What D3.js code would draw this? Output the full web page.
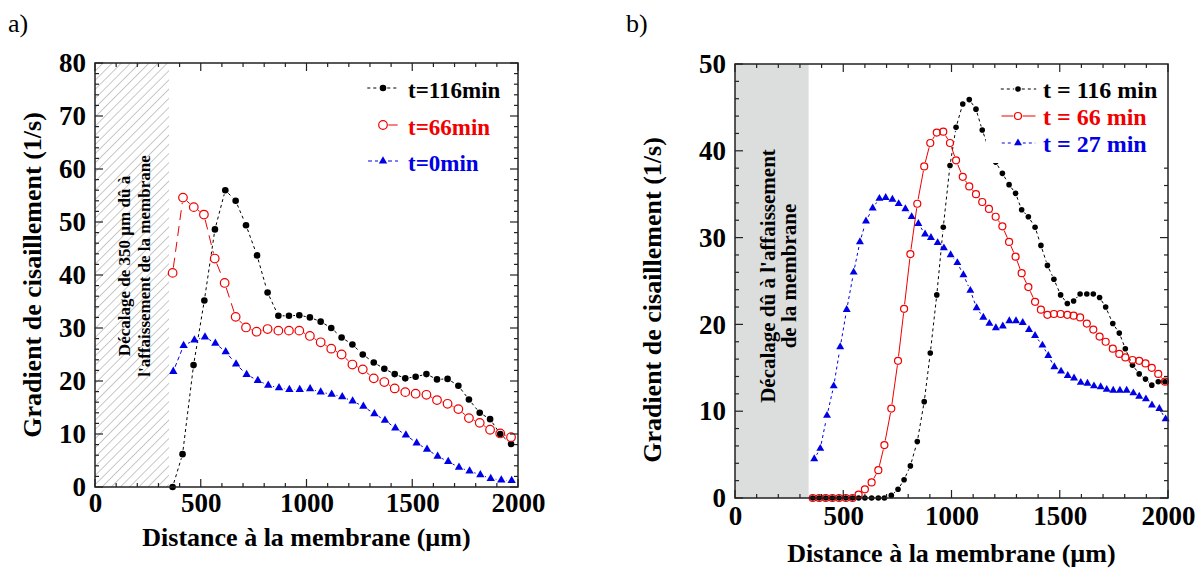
<!DOCTYPE html>
<html><head><meta charset="utf-8">
<script src="https://cdn.jsdelivr.net/npm/d3@7"></script>
<style>body{margin:0;background:#fff} svg{display:block} text{font-family:"Liberation Serif","Times New Roman",serif}</style>
</head><body><svg id="c" width="1202" height="575" font-family="Liberation Serif, Times New Roman, serif"></svg>
<script>
// ---------- Panel a data ----------
const xA116 = [367,414,466,517,567,616,665,714,766,816,867,917,966,1016,1067,1117,1166,1217,1266,1318,1368,1417,1467,1516,1567,1617,1667,1718,1768,1819,1868,1916,1967];
const yA116 = [0,6.2,23,35.2,48.6,56,54,49.4,43.7,36.7,32.3,32.3,32.4,32.0,31.2,30.0,28.2,26.9,25.0,23.5,22.3,21.3,20.5,20.8,21.3,20.3,20.4,19.1,16.5,14.0,12.8,10.0,8.1];
const xA66 = [367,416,467,515,566,613,665,714,764,816,867,917,966,1016,1067,1117,1166,1217,1266,1318,1368,1417,1467,1516,1567,1617,1667,1718,1768,1819,1868,1916,1967];
const yA66 = [40.4,54.6,52.8,51.4,43.1,38.5,32.1,30.1,29.3,29.8,29.5,29.5,29.5,28.5,27.3,26.1,25.0,23.1,22.2,20.5,19.8,18.6,17.9,17.6,17.4,16.4,15.7,14.7,13.0,12.1,10.8,10.1,9.4];
const xA0 = [370,419,470,520,569,618,667,717,770,819,870,919,968,1017,1067,1119,1169,1218,1269,1321,1371,1420,1470,1521,1570,1620,1670,1721,1771,1822,1871,1921,1970];
const yA0 = [21.8,26.7,27.7,28.3,27.1,25.5,23.2,21.2,20.1,19.2,18.7,18.4,18.4,18.5,17.9,17.5,17.0,16.2,15.2,13.8,12.6,11.1,9.8,8.3,7.1,5.8,4.8,3.7,3.0,2.3,1.6,1.3,1.2];
const legendA = ["t=116min","t=66min","t=0min"];
const yTicksA = [0,10,20,30,40,50,60,70,80];

// ---------- Panel b data ----------
const xB = [359,389,419,450,481,512,543,571,600,631,662,690,722,753,781,810,842,874,902,932,962,993,1021,1052,1082,1113,1142,1173,1204,1235,1266,1296,1324,1355,1386,1413,1443,1473,1504,1535,1564,1594,1625,1655,1684,1712,1745,1775,1803,1836,1867,1896,1925,1955,1986];
const yB116 = [0,0,0,0,0,0,0,0,0,0,0,0,0.3,1.0,2.1,3.7,6.5,11.1,16.7,23.4,31.2,38.3,42.7,45.4,45.9,44.8,42.4,40.2,38.7,37.4,36.1,35.1,33.2,32.4,31.2,29.1,26.8,25.2,23.4,22.4,22.7,23.5,23.5,23.5,23.1,22.0,20.1,19.0,17.2,15.3,14.3,13.7,13.0,13.4,13.4];
const yB66 = [0,0,0,0,0,0,0,0.4,1.0,1.8,3.2,6.1,10.3,15.8,21.8,28.1,33.9,38.2,40.9,42.1,42.2,40.9,38.9,37.0,35.9,35.0,34.1,33.3,32.4,31.3,29.5,27.8,25.9,24.3,22.6,21.7,21.1,21.2,21.2,21.1,21.0,20.8,20.1,19.4,18.6,18.0,17.2,16.6,16.2,15.9,15.8,15.5,15.0,14.3,13.4];
const xB27 = [366,394,425,456,486,516,548,577,605,636,667,696,727,756,787,816,847,878,905,936,965,996,1027,1055,1087,1116,1147,1175,1205,1237,1267,1298,1329,1358,1386,1420,1447,1475,1506,1537,1566,1597,1628,1658,1689,1717,1747,1778,1809,1840,1867,1898,1926,1960,1989];
const yB27 = [4.5,5.7,9.5,12.9,17.4,21.7,26.0,29.5,31.9,33.4,34.5,34.6,34.4,33.9,33.3,32.4,31.6,30.4,30.0,29.4,28.8,28.0,27.1,25.7,23.9,21.9,20.8,20.1,19.6,19.8,20.4,20.4,20.2,19.4,18.7,17.6,16.4,15.1,14.6,14.1,13.8,13.3,13.2,12.9,12.8,12.5,12.4,12.4,12.4,12.1,11.7,11.4,10.7,10.3,9.1];
const legendB = ["t = 116 min","t = 66 min","t = 27 min"];
const yTicksB = [0,10,20,30,40,50];

const xTicks = [0,500,1000,1500,2000];
const BLACK = "#000", RED = "#f00000", BLUE = "#0000e6";
const FONT = "Liberation Serif, Times New Roman, serif";

const svg = d3.select("#c");
const defs = svg.append("defs");
const pat = defs.append("pattern").attr("id","hatch").attr("patternUnits","userSpaceOnUse")
  .attr("width",6.5).attr("height",6.5).attr("patternTransform","rotate(45)");
pat.append("line").attr("x1",0).attr("y1",0).attr("x2",0).attr("y2",6.5)
  .attr("stroke","#9a9a9a").attr("stroke-width",1.1);

function marker(g, type, cx, cy, r, color) {
  if (type === "dot") g.append("circle").attr("cx",cx).attr("cy",cy).attr("r",r).attr("fill",color);
  else if (type === "ring") g.append("circle").attr("cx",cx).attr("cy",cy).attr("r",r).attr("fill","none").attr("stroke",color).attr("stroke-width",1.2);
  else g.append("path").attr("d", d3.symbol(d3.symbolTriangle, r*r*1.9)()).attr("transform",`translate(${cx},${cy})`).attr("fill",color);
}

function gappedLine(g, pts, gap, color, dash) {
  for (let i = 1; i < pts.length; i++) {
    const [x1,y1] = pts[i-1], [x2,y2] = pts[i];
    const dx = x2-x1, dy = y2-y1, L = Math.hypot(dx,dy);
    if (L <= 2*gap) continue;
    const ux = dx/L, uy = dy/L;
    g.append("line").attr("x1",x1+ux*gap).attr("y1",y1+uy*gap).attr("x2",x2-ux*gap).attr("y2",y2-uy*gap)
      .attr("stroke",color).attr("stroke-width",1).attr("stroke-dasharray",dash);
  }
}

function txt(g, size) {
  return g.append("text").attr("font-family",FONT).attr("font-weight","bold").attr("font-size",size);
}

function panel(c) {
  const g = svg.append("g");
  const x = d3.scaleLinear().domain([0,2000]).range([c.left,c.right]);
  const y = d3.scaleLinear().domain([0,c.yMax]).range([c.bottom,c.top]);
  g.append("rect").attr("x",x(0)).attr("y",y(c.yMax)).attr("width",x(c.shadeEnd)-x(0)).attr("height",y(0)-y(c.yMax))
    .attr("fill", c.hatch ? "url(#hatch)" : "#dcdddd");
  const ax = (x(0)+x(c.shadeEnd))/2, ay = c.annY;
  c.annLines.forEach((t,i) => {
    txt(g, c.annSize).attr("transform",`translate(${ax + (i-0.5)*c.annSpacing + c.annShift},${ay}) rotate(-90)`)
      .attr("text-anchor","middle").attr("dy","0.35em").text(t);
  });
  const clip = "clip" + c.id;
  defs.append("clipPath").attr("id",clip).append("rect").attr("x",c.left-6).attr("y",c.top-6).attr("width",c.right-c.left+12).attr("height",c.bottom-c.top+12);
  const sg = g.append("g").attr("clip-path",`url(#${clip})`);
  c.series.forEach(s => {
    const pts = s.x.map((v,i) => [x(v), y(s.y[i])]);
    gappedLine(sg, pts, s.r + 1, s.color, s.dash);
    pts.forEach(p => marker(sg, s.marker, p[0], p[1], s.r, s.color));
  });
  if (c.legendBox) g.append("rect").attr("x",c.legendBox[0]).attr("y",c.legendBox[1]).attr("width",c.legendBox[2]).attr("height",c.legendBox[3]).attr("fill","#fff");
  c.series.forEach((s,i) => {
    const ly = c.legY[i];
    const lx0 = c.legX[0] + (s.legInset||0), lm = c.legX[1], lx1 = c.legX[2];
    gappedLine(g, [[lx0,ly-c.legOff],[lm,ly-c.legOff],[lx1,ly-c.legOff]], s.r+1, s.color, s.dash);
    marker(g, s.marker, lm, ly-c.legOff, s.r, s.color);
    txt(g, c.legSize).attr("x",c.legX[3]).attr("y",ly).attr("fill",s.color).text(c.legend[i]);
  });
  const tk = g.append("g").attr("fill","none").attr("stroke","#222").attr("stroke-width",1.2);
  const minorX = d3.range(0,2001,100), minorY = d3.range(0,c.yMax+0.1,2);
  minorX.forEach(v => {
    const L = v % 500 === 0 ? 8 : 4;
    tk.append("line").attr("x1",x(v)).attr("x2",x(v)).attr("y1",c.bottom).attr("y2",c.bottom-L);
    tk.append("line").attr("x1",x(v)).attr("x2",x(v)).attr("y1",c.top).attr("y2",c.top+L);
  });
  minorY.forEach(v => {
    const L = Math.abs(v % 10) < 1e-6 ? 8 : 4;
    tk.append("line").attr("x1",c.left).attr("x2",c.left+L).attr("y1",y(v)).attr("y2",y(v));
    if (!(c.legendBox && y(v) < c.legendBox[1]+c.legendBox[3]))
      tk.append("line").attr("x1",c.right).attr("x2",c.right-L).attr("y1",y(v)).attr("y2",y(v));
  });
  g.append("rect").attr("x",c.left).attr("y",c.top).attr("width",c.right-c.left).attr("height",c.bottom-c.top)
    .attr("fill","none").attr("stroke","#222").attr("stroke-width",1.5);
  const xa = g.append("g").attr("transform",`translate(0,${c.bottom})`)
    .call(d3.axisBottom(x).tickValues(xTicks).tickSize(0).tickPadding(c.xPad).tickFormat(d3.format("d")));
  const ya = g.append("g").attr("transform",`translate(${c.left},0)`)
    .call(d3.axisLeft(y).tickValues(c.yTicks).tickSize(0).tickPadding(9).tickFormat(d3.format("d")));
  [xa,ya].forEach(a => { a.attr("font-family",FONT); a.select(".domain").remove();
    a.selectAll("text").attr("font-family",FONT).attr("font-weight","bold").attr("font-size",27).attr("fill","#000"); });
  txt(g, 26).attr("x",(c.left+c.right)/2).attr("y",c.xTitleY).attr("text-anchor","middle").text("Distance à la membrane (µm)");
  txt(g, 26).attr("transform",`translate(${c.yTitleX},${c.yTitleY}) rotate(-90)`).attr("text-anchor","middle")
    .attr("dy","0.35em").text("Gradient de cisaillement (1/s)");
  svg.append("text").attr("font-family",FONT).attr("x",c.tagX).attr("y",32).attr("font-size",26).text(c.tag);
}

panel({
  id:"a", tag:"a)", tagX:8, left:95, right:518, top:63, bottom:487, yMax:80, yTicks:yTicksA,
  hatch:true, shadeEnd:350, annY:266, annSpacing:20, annShift:2, annSize:17,
  annLines:["Décalage de 350 µm dû à","l'affaissement de la membrane"],
  series:[
    {x:xA116, y:yA116, color:BLACK, marker:"dot", r:3.3, dash:"3,3"},
    {x:xA66, y:yA66, color:RED, marker:"ring", r:4.3, dash:"10,6", legInset:11},
    {x:xA0, y:yA0, color:BLUE, marker:"tri", r:4.0, dash:"4,3"}
  ],
  legend:legendA, legX:[363,383,403,408], legY:[98,135,171], legOff:10, legSize:23,
  xPad:6, xTitleY:546, yTitleX:32, yTitleY:275
});

panel({
  id:"b", tag:"b)", tagX:626, left:735, right:1168, top:64, bottom:498, yMax:50, yTicks:yTicksB,
  hatch:false, shadeEnd:340, annY:276, annSpacing:21, annShift:6, annSize:21,
  annLines:["Décalage dû à l'affaissement","de la membrane"],
  series:[
    {x:xB, y:yB116, color:BLACK, marker:"dot", r:2.8, dash:"3,3"},
    {x:xB, y:yB66, color:RED, marker:"ring", r:3.5, dash:null},
    {x:xB27, y:yB27, color:BLUE, marker:"tri", r:3.8, dash:"3,3"}
  ],
  legend:legendB, legX:[997,1018,1040,1043], legY:[98,125,152], legOff:9, legSize:24,
  legendBox:[986,65,181,98],
  xPad:8, xTitleY:562, yTitleX:652, yTitleY:300
});
</script></body></html>
